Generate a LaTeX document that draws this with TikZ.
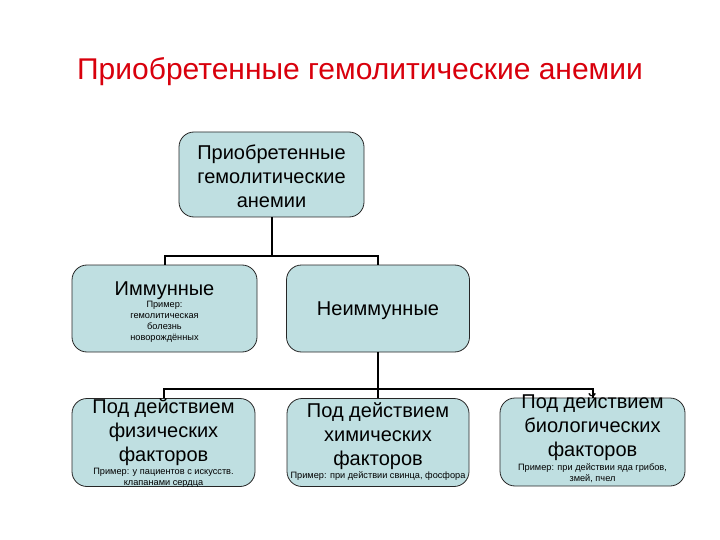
\documentclass[tikz,border=0pt]{standalone}
\usepackage{fontspec}
\setmainfont{Liberation Sans}
\usepackage{xcolor}
\usepackage{tikz}
\usetikzlibrary{positioning,calc}
\definecolor{boxfill}{HTML}{BFDFE1}
\definecolor{titlered}{HTML}{D8000C}
\newcommand\smalltxt{\fontsize{9.2}{11}\selectfont}

\begin{document}
\begin{tikzpicture}[x=1pt,y=-1pt,
  box/.style={draw=black!85,line width=0.8pt,fill=boxfill,rounded corners=15pt,
    minimum width=184pt,minimum height=88pt,inner sep=0pt},
  bigtxt/.style={align=center,font=\fontsize{20}{24}\selectfont,inner sep=0pt},
  conn/.style={line width=2pt,black}]
  \useasboundingbox (0,0) rectangle (720,540);
  \node[text=titlered,font=\fontsize{30}{34}\selectfont,anchor=base] (title) at (360,80)
    {Приобретенные гемолитические анемии};

  % top level
  \node[box,minimum width=185pt,minimum height=85pt] (top) at (271.5,174.5) {};
  \node[bigtxt] (top-txt) at ($(top)+(0,2)$) {Приобретенные\\гемолитические\\анемии};

  % second level
  \node[box,minimum width=185pt,minimum height=87pt] (imm) at (164.5,308.5) {};
  \node[bigtxt] (imm-txt) at ($(imm)+(0,4)$)
    {Иммунные\\[-12pt]{\smalltxt Пример:}\\[-13pt]{\smalltxt гемолитическая}\\[-13pt]
     {\smalltxt болезнь}\\[-13pt]{\smalltxt новорождённых}};
  \node[box,minimum width=183pt,minimum height=87pt] (nonimm) at (378,308.5) {};
  \node[bigtxt] (nonimm-txt) at ($(nonimm)+(0,2)$) {Неиммунные};

  % third level
  \node[box,minimum width=183pt] (phys) at (163.5,442.5) {};
  \node[bigtxt] (phys-txt) at ($(phys)+(0,1)$)
    {Под действием\\физических\\факторов\\[-11pt]
     {\smalltxt Пример: у пациентов с искусств.}\\[-13pt]{\smalltxt клапанами сердца}};
  \node[box,minimum width=182pt] (chem) at (378,442.5) {};
  \node[bigtxt] (chem-txt) at ($(chem)+(0,-1)$)
    {Под действием\\химических\\факторов\\[-11pt]
     {\smalltxt Пример: при действии свинца, фосфора}};
  \node[box,minimum width=185pt] (bio) at (592.5,442) {};
  \node[bigtxt] (bio-txt) at ($(bio)+(0,-4)$)
    {Под действием\\биологических\\факторов\\[-10pt]
     {\smalltxt Пример: при действии яда грибов,}\\[-13pt]{\smalltxt змей, пчел}};

  % connectors
  \coordinate (bus1) at (271.5,256);
  \coordinate (bus2) at (378,389);
  \draw[conn] (top.south) -- (bus1);
  \draw[conn] (imm.north) |- (bus1) -| (nonimm.north);
  \draw[conn] (nonimm.south) -- (bus2);
  \draw[conn] (phys.north) |- (bus2) -| (bio.north);
  \draw[conn] (bus2) -- (chem.north);
\end{tikzpicture}
\end{document}
